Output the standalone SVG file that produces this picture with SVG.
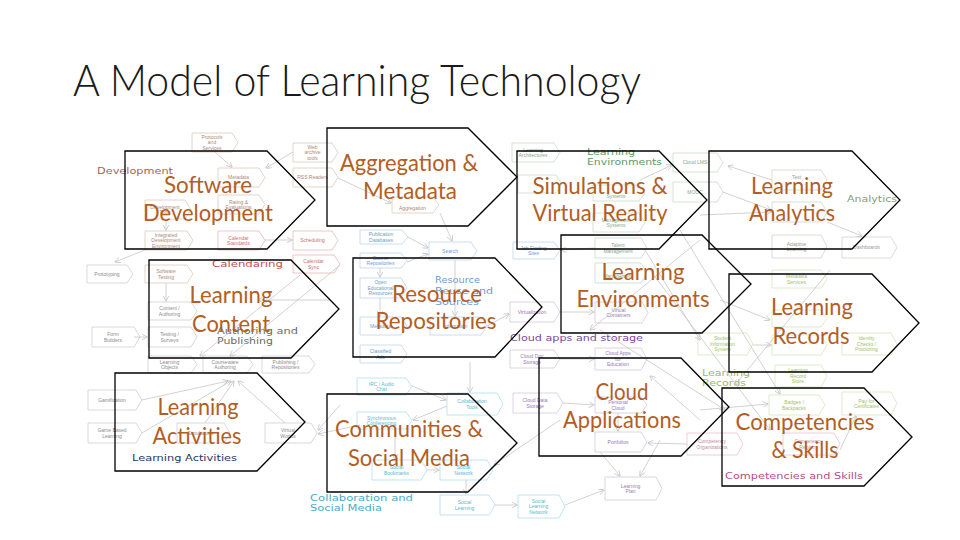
<svg xmlns="http://www.w3.org/2000/svg" width="960" height="540" viewBox="0 0 960 540">
<style>
.bg{fill:#ffffff}
.bx polygon{fill:none;stroke-width:0.8}
.bx text{font-family:"Liberation Sans",Arial,sans-serif;font-size:5px;text-anchor:middle}
.dv polygon{stroke:#dcc9bd}.dv text{fill:#b08878}
.cl polygon{stroke:#eab7b7}.cl text{fill:#cf6f6c}
.au polygon{stroke:#cfcfcf}.au text{fill:#8c8c8c}
.rs polygon{stroke:#bfd3ea}.rs text{fill:#6f9cd0}
.le polygon{stroke:#c9dccb}.le text{fill:#86a88e}
.cd polygon{stroke:#d6c6e2}.cd text{fill:#9a7ab6}
.an polygon{stroke:#d2d4cc}.an text{fill:#9a9c90}
.lr polygon{stroke:#d6e6bc}.lr text{fill:#a3c266}
.cp polygon{stroke:#ebc3d0}.cp text{fill:#c88aa0}
.co polygon{stroke:#afdfe9}.co text{fill:#5cb8cf}
.hd{font-family:"DejaVu Sans",Verdana,sans-serif;font-size:9.5px}
.conn line{stroke:#c6c6c6;stroke-width:0.8;marker-end:url(#ah)}
.node polygon{fill:none;stroke:#000;stroke-width:1.3}
.node text{font-family:Lato,"Open Sans","Liberation Sans",sans-serif;font-size:24px;fill:#b25e24;text-anchor:middle}
.title{font-family:Lato,"Open Sans","Liberation Sans",sans-serif;font-weight:300;font-size:44px;fill:#1a1a1a}
</style>
<defs>
<marker id="ah" markerWidth="6" markerHeight="6" refX="5.5" refY="3" orient="auto" markerUnits="userSpaceOnUse">
<path d="M0,0 L6,3 L0,6" fill="none" stroke="#c6c6c6" stroke-width="0.8"/>
</marker>
</defs>
<rect class="bg" x="0" y="0" width="960" height="540"/>
<text class="title" x="73" y="96" textLength="568" lengthAdjust="spacingAndGlyphs">A Model of Learning Technology</text>

<g id="background">
<!-- Development -->
<g class="bx dv"><polygon points="192,133 232,133 238,142.5 232,152 192,152"/><text><tspan x="212" y="138.7">Protocols</tspan><tspan x="212" y="144.3">and</tspan><tspan x="212" y="149.9">Services</tspan></text></g>
<g class="bx dv"><polygon points="218,168 259,168 265,177.5 259,187 218,187"/><text x="238.5" y="179.3">Metadata</text></g>
<g class="bx dv"><polygon points="218,195 259,195 265,204.5 259,214 218,214"/><text><tspan x="238.5" y="203.5">Rating &amp;</tspan><tspan x="238.5" y="209.1">Evaluations</tspan></text></g>
<g class="bx dv"><polygon points="145,200 185,200 191,209.5 185,219 145,219"/><text><tspan x="165" y="208.5">Development</tspan><tspan x="165" y="214.1">Tools</tspan></text></g>
<g class="bx dv"><polygon points="145,231 187,231 193,240.5 187,250 145,250"/><text><tspan x="166" y="236.7">Integrated</tspan><tspan x="166" y="242.3">Development</tspan><tspan x="166" y="247.9">Environment</tspan></text></g>
<g class="bx dv"><polygon points="293,143 332,143 338,152.5 332,162 293,162"/><text><tspan x="312.5" y="148.7">Web</tspan><tspan x="312.5" y="154.3">archive</tspan><tspan x="312.5" y="159.9">tools</tspan></text></g>
<g class="bx dv"><polygon points="293,168 332,168 338,177.5 332,187 293,187"/><text x="312.5" y="179.3">RSS Readers</text></g>
<g class="bx dv"><polygon points="392,197 433,197 439,205 433,213 392,213"/><text x="412.5" y="209.6">Aggregation</text></g>
<g class="bx dv"><polygon points="145,265 187,265 193,274 187,283 145,283"/><text><tspan x="166" y="273">Software</tspan><tspan x="166" y="278.6">Testing</tspan></text></g>
<text class="hd" x="97" y="174" fill="#9a6a5a" textLength="76" lengthAdjust="spacingAndGlyphs">Development</text>
<!-- Calendaring -->
<g class="bx cl"><polygon points="218,231 259,231 265,240.5 259,250 218,250"/><text><tspan x="238.5" y="239.5">Calendar</tspan><tspan x="238.5" y="245.1">Standards</tspan></text></g>
<g class="bx cl"><polygon points="293,231 332,231 338,240.5 332,250 293,250"/><text x="312.5" y="242.3">Scheduling</text></g>
<g class="bx cl"><polygon points="293,255 334,255 340,264 334,273 293,273"/><text><tspan x="313.5" y="263">Calendar</tspan><tspan x="313.5" y="268.6">Sync</tspan></text></g>
<text class="hd" x="212" y="267" fill="#c0504d" textLength="71" lengthAdjust="spacingAndGlyphs">Calendaring</text>
<!-- Authoring and Publishing -->
<g class="bx au"><polygon points="87,265 127,265 133,274 127,283 87,283"/><text x="107" y="275.8">Prototyping</text></g>
<g class="bx au"><polygon points="148,302 191,302 197,311 191,320 148,320"/><text><tspan x="169.5" y="310">Content /</tspan><tspan x="169.5" y="315.6">Authoring</tspan></text></g>
<g class="bx au"><polygon points="92,327 134,327 140,337 134,347 92,347"/><text><tspan x="113" y="336">Form</tspan><tspan x="113" y="341.6">Builders</tspan></text></g>
<g class="bx au"><polygon points="148,327 191,327 197,337 191,347 148,347"/><text><tspan x="169.5" y="336">Testing /</tspan><tspan x="169.5" y="341.6">Surveys</tspan></text></g>
<g class="bx au"><polygon points="148,356 191,356 197,364.5 191,373 148,373"/><text><tspan x="169.5" y="363.5">Learning</tspan><tspan x="169.5" y="369.1">Objects</tspan></text></g>
<g class="bx au"><polygon points="203,356 247,356 253,364.5 247,373 203,373"/><text><tspan x="225" y="363.5">Courseware</tspan><tspan x="225" y="369.1">Authoring</tspan></text></g>
<g class="bx au"><polygon points="262,356 309,356 315,364.5 309,373 262,373"/><text><tspan x="285.5" y="363.5">Publishing /</tspan><tspan x="285.5" y="369.1">Repositories</tspan></text></g>
<text class="hd" fill="#6a6a6a"><tspan x="217" y="334" textLength="81" lengthAdjust="spacingAndGlyphs">Authoring and</tspan><tspan x="217" y="344" textLength="56" lengthAdjust="spacingAndGlyphs">Publishing</tspan></text>
<!-- Learning Activities -->
<g class="bx au"><polygon points="88,390 136,390 142,400 136,410 88,410"/><text x="112" y="401.8">Gamification</text></g>
<g class="bx au"><polygon points="88,423 136,423 142,433 136,443 88,443"/><text><tspan x="112" y="432">Game Based</tspan><tspan x="112" y="437.6">Learning</tspan></text></g>
<g class="bx au"><polygon points="177,423 224,423 230,433 224,443 177,443"/><text x="200.5" y="434.8">Simulations</text></g>
<g class="bx au"><polygon points="265,423 311,423 317,433 311,443 265,443"/><text><tspan x="288" y="432">Virtual</tspan><tspan x="288" y="437.6">Worlds</tspan></text></g>
<text class="hd" x="132" y="461" fill="#1f3864" textLength="105" lengthAdjust="spacingAndGlyphs">Learning Activities</text>
<!-- Resources -->
<g class="bx rs"><polygon points="360,230 402,230 408,237 402,244 360,244"/><text><tspan x="381" y="236">Publication</tspan><tspan x="381" y="241.6">Databases</tspan></text></g>
<g class="bx rs"><polygon points="429,242 471,242 477,251 471,260 429,260"/><text x="450" y="252.8">Search</text></g>
<g class="bx rs"><polygon points="360,253 401,253 407,260.5 401,268 360,268"/><text><tspan x="380.5" y="259.5">Course</tspan><tspan x="380.5" y="265.1">Repositories</tspan></text></g>
<g class="bx rs"><polygon points="360,278 401,278 407,288 401,298 360,298"/><text><tspan x="380.5" y="284.2">Open</tspan><tspan x="380.5" y="289.8">Educational</tspan><tspan x="380.5" y="295.4">Resources</tspan></text></g>
<g class="bx rs"><polygon points="360,317 401,317 407,326 401,335 360,335"/><text x="380.5" y="327.8">Metadata</text></g>
<g class="bx rs"><polygon points="430,317 481,317 487,326 481,335 430,335"/><text x="455.5" y="327.8">Integration</text></g>
<g class="bx rs"><polygon points="360,345 401,345 407,354 401,363 360,363"/><text><tspan x="380.5" y="353">Classified</tspan><tspan x="380.5" y="358.6">Ads</tspan></text></g>
<g class="bx rs"><polygon points="513,242 554,242 560,250.5 554,259 513,259"/><text><tspan x="533.5" y="249.5">Job Finding</tspan><tspan x="533.5" y="255.1">Sites</tspan></text></g>
<text class="hd" fill="#6c9bd2"><tspan x="435" y="283" textLength="45" lengthAdjust="spacingAndGlyphs">Resource</tspan><tspan x="435" y="294" textLength="58" lengthAdjust="spacingAndGlyphs">Reuse and</tspan><tspan x="435" y="305" textLength="44" lengthAdjust="spacingAndGlyphs">Sources</tspan></text>
<!-- Learning Environments -->
<g class="bx le"><polygon points="512,143 554,143 560,152.5 554,162 512,162"/><text><tspan x="533" y="151.5">Learning</tspan><tspan x="533" y="157.1">Architectures</tspan></text></g>
<g class="bx le"><polygon points="673,153 717,153 723,162.5 717,172 673,172"/><text x="695" y="164.3">Cloud LMS</text></g>
<g class="bx le"><polygon points="518,175 556,175 562,184 556,193 518,193"/></g>
<g class="bx le"><polygon points="593,185 639,185 645,193 639,201 593,201"/><text x="616" y="197.6">Systems</text></g>
<g class="bx le"><polygon points="673,182 717,182 723,192 717,202 673,202"/><text x="695" y="193.8">MOOC</text></g>
<g class="bx le"><polygon points="593,213 639,213 645,222.5 639,232 593,232"/><text><tspan x="616" y="221.5">Management</tspan><tspan x="616" y="227.1">Systems</tspan></text></g>
<g class="bx le"><polygon points="595,238 641,238 647,248 641,258 595,258"/><text><tspan x="618" y="247">Talent</tspan><tspan x="618" y="252.6">Management</tspan></text></g>
<g class="bx le"><polygon points="595,263 641,263 647,273 641,283 595,283"/><text x="618" y="277.6">Management</text></g>
<g class="bx lr"><polygon points="698,333 747,333 753,344 747,355 698,355"/><text><tspan x="722.5" y="340.2">Student</tspan><tspan x="722.5" y="345.8">Information</tspan><tspan x="722.5" y="351.4">System</tspan></text></g>
<text class="hd" fill="#5b9b6b"><tspan x="587" y="155" textLength="48" lengthAdjust="spacingAndGlyphs">Learning</tspan><tspan x="587" y="165" textLength="75" lengthAdjust="spacingAndGlyphs">Environments</tspan></text>
<!-- Cloud -->
<g class="bx cd"><polygon points="510,302 554,302 560,312 554,322 510,322"/><text x="532" y="313.8">Virtualization</text></g>
<g class="bx cd"><polygon points="595,302 642,302 648,312.5 642,323 595,323"/><text><tspan x="618.5" y="311.5">Virtual</tspan><tspan x="618.5" y="317.1">Containers</tspan></text></g>
<g class="bx cd"><polygon points="510,350 554,350 560,359 554,368 510,368"/><text><tspan x="532" y="358">Cloud Doc</tspan><tspan x="532" y="363.6">Storage</tspan></text></g>
<g class="bx cd"><polygon points="595,348 641,348 647,359 641,370 595,370"/><text><tspan x="618" y="355.2">Cloud Apps</tspan><tspan x="618" y="360.8">for</tspan><tspan x="618" y="366.4">Education</tspan></text></g>
<g class="bx cd"><polygon points="513,393 557,393 563,403 557,413 513,413"/><text><tspan x="535" y="402">Cloud Data</tspan><tspan x="535" y="407.6">Storage</tspan></text></g>
<g class="bx cd"><polygon points="595,397 641,397 647,405 641,413 595,413"/><text><tspan x="618" y="404">Personal</tspan><tspan x="618" y="409.6">Cloud</tspan></text></g>
<g class="bx cd"><polygon points="595,432 641,432 647,442 641,452 595,452"/><text x="618" y="443.8">Portfolios</text></g>
<g class="bx cd"><polygon points="605,477 656,477 662,488.5 656,500 605,500"/><text><tspan x="630.5" y="487.5">Learning</tspan><tspan x="630.5" y="493.1">Plan</tspan></text></g>
<text class="hd" x="510" y="341" fill="#7a4a9a" textLength="133" lengthAdjust="spacingAndGlyphs">Cloud apps and storage</text>
<!-- Analytics -->
<g class="bx an"><polygon points="772,170 821,170 827,180 821,190 772,190"/><text x="796.5" y="179">Test</text></g>
<g class="bx an"><polygon points="772,202 821,202 827,212 821,222 772,222"/></g>
<g class="bx an"><polygon points="772,235 821,235 827,246.5 821,258 772,258"/><text><tspan x="796.5" y="245.5">Adaptive</tspan><tspan x="796.5" y="251.1">Learning</tspan></text></g>
<g class="bx an"><polygon points="842,237 891,237 897,247.5 891,258 842,258"/><text x="866.5" y="249.3">Dashboards</text></g>
<text class="hd" x="847" y="202" fill="#8a9a7a" textLength="50" lengthAdjust="spacingAndGlyphs">Analytics</text>
<!-- Learning Records -->
<g class="bx lr"><polygon points="772,270 821,270 827,279 821,288 772,288"/><text><tspan x="796.5" y="278">Metadata</tspan><tspan x="796.5" y="283.6">Services</tspan></text></g>
<g class="bx lr"><polygon points="772,310 821,310 827,318.5 821,327 772,327"/></g>
<g class="bx lr"><polygon points="772,335 821,335 827,345 821,355 772,355"/></g>
<g class="bx lr"><polygon points="842,333 891,333 897,344 891,355 842,355"/><text><tspan x="866.5" y="340.2">Identity</tspan><tspan x="866.5" y="345.8">Checks /</tspan><tspan x="866.5" y="351.4">Proctoring</tspan></text></g>
<g class="bx lr"><polygon points="775,365 821,365 827,376 821,387 775,387"/><text><tspan x="798" y="372.2">Learning</tspan><tspan x="798" y="377.8">Record</tspan><tspan x="798" y="383.4">Store</tspan></text></g>
<g class="bx lr"><polygon points="769,395 819,395 825,405 819,415 769,415"/><text><tspan x="794" y="404">Badges /</tspan><tspan x="794" y="409.6">Backpacks</tspan></text></g>
<g class="bx lr"><polygon points="842,392 891,392 897,403.5 891,415 842,415"/><text><tspan x="866.5" y="402.5">Pay-for</tspan><tspan x="866.5" y="408.1">Certificates</tspan></text></g>
<text class="hd" fill="#9bbb59"><tspan x="702" y="376" textLength="48" lengthAdjust="spacingAndGlyphs">Learning</tspan><tspan x="702" y="386" textLength="44" lengthAdjust="spacingAndGlyphs">Records</tspan></text>
<!-- Competencies -->
<g class="bx cp"><polygon points="783,433 834,433 840,444 834,455 783,455"/><text><tspan x="808.5" y="443">Competency</tspan><tspan x="808.5" y="448.6">Registry</tspan></text></g>
<g class="bx cp"><polygon points="687,433 737,433 743,444 737,455 687,455"/><text><tspan x="712" y="443">Competency</tspan><tspan x="712" y="448.6">Organizations</tspan></text></g>
<text class="hd" x="725" y="479" fill="#b0508a" textLength="138" lengthAdjust="spacingAndGlyphs">Competencies and Skills</text>
<!-- Collaboration -->
<g class="bx co"><polygon points="357,378 406,378 412,386.5 406,395 357,395"/><text><tspan x="381.5" y="385.5">IRC / Audio</tspan><tspan x="381.5" y="391.1">Chat</tspan></text></g>
<g class="bx co"><polygon points="447,393 497,393 503,404 497,415 447,415"/><text><tspan x="472" y="403">Collaboration</tspan><tspan x="472" y="408.6">Tools</tspan></text></g>
<g class="bx co"><polygon points="357,412 406,412 412,420.5 406,429 357,429"/><text><tspan x="381.5" y="419.5">Synchronous</tspan><tspan x="381.5" y="425.1">Conferencing</tspan></text></g>
<g class="bx co"><polygon points="372,460 421,460 427,470 421,480 372,480"/><text><tspan x="396.5" y="469">Social</tspan><tspan x="396.5" y="474.6">Bookmarks</tspan></text></g>
<g class="bx co"><polygon points="440,460 487,460 493,470 487,480 440,480"/><text><tspan x="463.5" y="469">Social</tspan><tspan x="463.5" y="474.6">Network</tspan></text></g>
<g class="bx co"><polygon points="440,495 489,495 495,505 489,515 440,515"/><text><tspan x="464.5" y="504">Social</tspan><tspan x="464.5" y="509.6">Learning</tspan></text></g>
<g class="bx co"><polygon points="518,495 559,495 565,506.5 559,518 518,518"/><text><tspan x="538.5" y="502.7">Social</tspan><tspan x="538.5" y="508.3">Learning</tspan><tspan x="538.5" y="513.9">Network</tspan></text></g>
<text class="hd" fill="#4bacc6"><tspan x="310" y="501" textLength="103" lengthAdjust="spacingAndGlyphs">Collaboration and</tspan><tspan x="310" y="511" textLength="72" lengthAdjust="spacingAndGlyphs">Social Media</tspan></text>
</g>

<g id="connectors" class="conn">
<line x1="215" y1="152" x2="232" y2="167"/>
<line x1="293" y1="152" x2="266" y2="168"/>
<line x1="166" y1="219" x2="166" y2="230"/>
<line x1="145" y1="250" x2="115" y2="262"/>
<line x1="265" y1="240" x2="292" y2="240"/>
<line x1="338" y1="178" x2="391" y2="203"/>
<line x1="440" y1="213" x2="452" y2="241"/>
<line x1="408" y1="237" x2="428" y2="248"/>
<line x1="166" y1="283" x2="166" y2="301"/>
<line x1="142" y1="400" x2="228" y2="381"/>
<line x1="142" y1="433" x2="231" y2="381"/>
<line x1="205" y1="423" x2="234" y2="381"/>
<line x1="285" y1="423" x2="238" y2="381"/>
<line x1="340" y1="405" x2="318" y2="430"/>
<line x1="360" y1="425" x2="318" y2="434"/>
<line x1="412" y1="386" x2="446" y2="400"/>
<line x1="470" y1="362" x2="470" y2="392"/>
<line x1="447" y1="406" x2="413" y2="420"/>
<line x1="395" y1="429" x2="395" y2="459"/>
<line x1="427" y1="470" x2="439" y2="470"/>
<line x1="466" y1="480" x2="466" y2="494"/>
<line x1="495" y1="505" x2="517" y2="505"/>
<line x1="560" y1="420" x2="494" y2="465"/>
<line x1="560" y1="359" x2="594" y2="359"/>
<line x1="563" y1="403" x2="594" y2="405"/>
<line x1="618" y1="413" x2="618" y2="431"/>
<line x1="600" y1="452" x2="620" y2="476"/>
<line x1="660" y1="440" x2="640" y2="476"/>
<line x1="565" y1="505" x2="604" y2="490"/>
<line x1="687" y1="444" x2="648" y2="443"/>
<line x1="772" y1="180" x2="728" y2="166"/>
<line x1="827" y1="222" x2="862" y2="236"/>
<line x1="723" y1="192" x2="771" y2="210"/>
<line x1="645" y1="250" x2="700" y2="340"/>
<line x1="595" y1="248" x2="561" y2="250"/>
<line x1="700" y1="240" x2="590" y2="330"/>
<line x1="650" y1="270" x2="770" y2="430"/>
<line x1="680" y1="230" x2="780" y2="394"/>
<line x1="600" y1="330" x2="725" y2="410"/>
<line x1="753" y1="345" x2="771" y2="345"/>
<line x1="830" y1="270" x2="735" y2="385"/>
<line x1="720" y1="300" x2="770" y2="320"/>
<line x1="700" y1="410" x2="768" y2="404"/>
<line x1="840" y1="450" x2="856" y2="416"/>
<line x1="640" y1="180" x2="672" y2="165"/>
<line x1="407" y1="262" x2="428" y2="254"/>
<line x1="380" y1="268" x2="380" y2="277"/>
<line x1="380" y1="298" x2="380" y2="316"/>
<line x1="455" y1="260" x2="455" y2="316"/>
<line x1="487" y1="326" x2="509" y2="314"/>
<line x1="300" y1="275" x2="200" y2="356"/>
<line x1="340" y1="265" x2="230" y2="356"/>
<line x1="330" y1="300" x2="258" y2="300"/>
<line x1="134" y1="337" x2="147" y2="337"/>
<line x1="560" y1="312" x2="594" y2="312"/>
<line x1="700" y1="420" x2="650" y2="376"/>
<line x1="700" y1="215" x2="771" y2="212"/>
</g>

<g id="node-software-development" class="node"><polygon points="125,151 267,151 315,200 267,249 125,249"/><text><tspan x="208" y="193" textLength="88" lengthAdjust="spacingAndGlyphs">Software</tspan><tspan x="208" y="221" textLength="130" lengthAdjust="spacingAndGlyphs">Development</tspan></text></g>
<g id="node-aggregation-metadata" class="node"><polygon points="327,128 468,128 517,177 468,226 327,226"/><text><tspan x="409" y="171" textLength="138" lengthAdjust="spacingAndGlyphs">Aggregation &amp;</tspan><tspan x="410" y="199" textLength="94" lengthAdjust="spacingAndGlyphs">Metadata</tspan></text></g>
<g id="node-simulations-vr" class="node"><polygon points="517,151 659,151 707,200 659,249 517,249"/><text><tspan x="600" y="194" textLength="135" lengthAdjust="spacingAndGlyphs">Simulations &amp;</tspan><tspan x="600" y="221" textLength="135" lengthAdjust="spacingAndGlyphs">Virtual Reality</tspan></text></g>
<g id="node-learning-analytics" class="node"><polygon points="709,151 852,151 900,200 852,249 709,249"/><text><tspan x="792" y="194" textLength="82" lengthAdjust="spacingAndGlyphs">Learning</tspan><tspan x="792" y="221" textLength="86" lengthAdjust="spacingAndGlyphs">Analytics</tspan></text></g>
<g id="node-learning-content" class="node"><polygon points="149,260 291,260 339,309 291,358 149,358"/><text><tspan x="231" y="303" textLength="83" lengthAdjust="spacingAndGlyphs">Learning</tspan><tspan x="231" y="332" textLength="78" lengthAdjust="spacingAndGlyphs">Content</tspan></text></g>
<g id="node-resource-repositories" class="node"><polygon points="353,258 495,258 542,307 495,357 353,357"/><text><tspan x="437" y="302" textLength="90" lengthAdjust="spacingAndGlyphs">Resource</tspan><tspan x="436" y="329" textLength="121" lengthAdjust="spacingAndGlyphs">Repositories</tspan></text></g>
<g id="node-learning-environments" class="node"><polygon points="561,235 702,235 751,284 702,333 561,333"/><text><tspan x="643" y="280" textLength="83" lengthAdjust="spacingAndGlyphs">Learning</tspan><tspan x="643" y="307" textLength="133" lengthAdjust="spacingAndGlyphs">Environments</tspan></text></g>
<g id="node-learning-records" class="node"><polygon points="729,274 872,274 919,323 872,372 729,372"/><text><tspan x="812" y="315" textLength="82" lengthAdjust="spacingAndGlyphs">Learning</tspan><tspan x="811" y="344" textLength="77" lengthAdjust="spacingAndGlyphs">Records</tspan></text></g>
<g id="node-learning-activities" class="node"><polygon points="115,373 257,373 305,422 257,471 115,471"/><text><tspan x="198" y="415" textLength="81" lengthAdjust="spacingAndGlyphs">Learning</tspan><tspan x="197" y="444" textLength="89" lengthAdjust="spacingAndGlyphs">Activities</tspan></text></g>
<g id="node-communities-social-media" class="node"><polygon points="327,394 468,394 517,443 468,492 327,492"/><text><tspan x="409" y="437" textLength="148" lengthAdjust="spacingAndGlyphs">Communities &amp;</tspan><tspan x="409" y="466" textLength="122" lengthAdjust="spacingAndGlyphs">Social Media</tspan></text></g>
<g id="node-cloud-applications" class="node"><polygon points="539,358 681,358 729,407 681,456 539,456"/><text><tspan x="622" y="400" textLength="53" lengthAdjust="spacingAndGlyphs">Cloud</tspan><tspan x="622" y="428" textLength="118" lengthAdjust="spacingAndGlyphs">Applications</tspan></text></g>
<g id="node-competencies-skills" class="node"><polygon points="722,388 864,388 912,437 864,486 722,486"/><text><tspan x="805" y="430" textLength="139" lengthAdjust="spacingAndGlyphs">Competencies</tspan><tspan x="805" y="458" textLength="67" lengthAdjust="spacingAndGlyphs">&amp; Skills</tspan></text></g>
</svg>
